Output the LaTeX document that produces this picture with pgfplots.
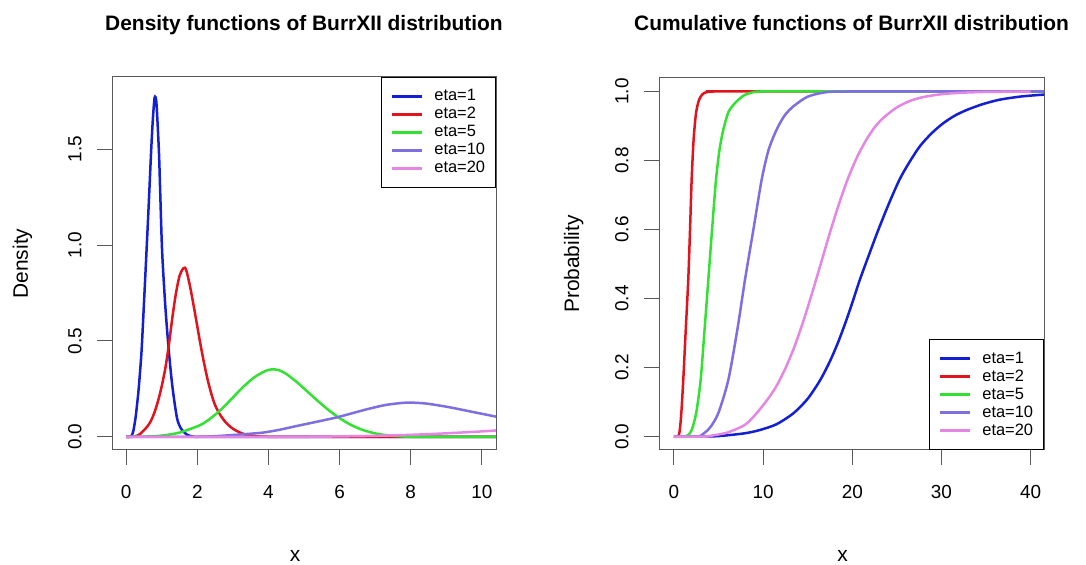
\documentclass[border=0pt]{standalone}
\usepackage{fontspec}
\setmainfont{Liberation Sans}
\usepackage{pgfplots}
\pgfplotsset{compat=1.18}
\definecolor{cBlue}{RGB}{20,30,210}
\definecolor{cRed}{RGB}{225,20,30}
\definecolor{cGreen}{RGB}{50,225,50}
\definecolor{cPurple}{RGB}{125,110,225}
\definecolor{cPink}{RGB}{228,135,228}
\pgfplotsset{
  rstyle/.style={
    scale only axis,
    axis line style={black!65, line width=1bp},
    tick style={black!65, line width=1bp},
    tick align=outside,
    major tick length=15bp,
    xtick pos=left, ytick pos=left,
    /pgf/number format/assume math mode=true,
    tick label style={font=\fontsize{19}{21}\selectfont},
    yticklabel style={rotate=90, anchor=south},
    yticklabel shift=12bp,
    xticklabel shift=17bp,
    title style={font=\fontsize{21}{24}\selectfont\bfseries, anchor=base, at={(0.5,1)}},
    every axis x label/.style={at={(axis description cs:0.5,0)}, anchor=base, yshift=-112bp, xshift=-9bp, font=\fontsize{21}{24}\selectfont},
    legend cell align=left,
    legend image code/.code={\draw[##1] (0bp,0bp) -- (30bp,0bp);},
    every axis plot/.append style={line width=2.5bp, smooth, tension=0.45},
    legend style={draw=black, line width=0.8bp, font=\fontsize{16.5}{18}\selectfont,
      inner xsep=9bp, inner ysep=10bp, row sep=0bp,
      nodes={inner sep=1.5bp, text height=12bp, text depth=3bp},
      /tikz/every odd column/.append style={column sep=10bp}},
  }
}
\begin{document}
\begin{tikzpicture}[x=1bp,y=1bp]
\path[use as bounding box] (0,0) rectangle (1086,565);
\begin{axis}[rstyle,
  at={(112bp,115bp)}, anchor=south west,
  width=384bp, height=373bp,
  xmin=-0.4, xmax=10.4, ymin=-0.069, ymax=1.877,
  xtick={0,2,4,6,8,10},
  ytick={0,0.5,1,1.5},
  yticklabel style={/pgf/number format/.cd, fixed, fixed zerofill, precision=1},
  title={Density functions of BurrXII distribution},
  title style={yshift=41bp},
  xlabel={x},
  ylabel={Density},
  every axis y label/.style={at={(axis description cs:0,0.5)}, xshift=-84bp, rotate=90, anchor=base, font=\fontsize{21}{24}\selectfont},
  legend style={at={(1,1)}, anchor=north east},
]
\addplot[cBlue] coordinates {(0,0) (0.1,0) (0.15,0.005) (0.2,0.03) (0.26,0.096) (0.3,0.16) (0.35,0.25) (0.43,0.444) (0.5,0.70) (0.57,0.966) (0.63,1.2) (0.7,1.487) (0.75,1.66) (0.8,1.77) (0.85,1.74) (0.92,1.487) (0.96,1.25) (1.01,0.966) (1.1,0.68) (1.2,0.444) (1.3,0.26) (1.43,0.096) (1.55,0.04) (1.7,0.012) (1.85,0.002) (2.0,0) (4,0) (10.4,0)};
\addlegendentry{eta=1}
\addplot[cRed] coordinates {(0,0) (0.2,0) (0.3,0.005) (0.4,0.016) (0.5,0.035) (0.6,0.055) (0.7,0.085) (0.8,0.13) (0.9,0.19) (1.0,0.265) (1.1,0.357) (1.2,0.48) (1.3,0.625) (1.4,0.75) (1.5,0.84) (1.6,0.878) (1.65,0.882) (1.7,0.862) (1.8,0.78) (1.9,0.68) (2.0,0.575) (2.1,0.47) (2.2,0.375) (2.3,0.29) (2.4,0.22) (2.5,0.165) (2.64,0.115) (2.8,0.075) (3.0,0.042) (3.25,0.018) (3.5,0.006) (4,0) (6,0) (10.4,0)};
\addlegendentry{eta=2}
\addplot[cGreen] coordinates {(0,0) (0.5,0.001) (1.0,0.006) (1.5,0.022) (2.08,0.061) (2.4,0.1) (2.7,0.148) (3.0,0.205) (3.3,0.262) (3.6,0.31) (3.9,0.342) (4.1,0.352) (4.3,0.347) (4.5,0.328) (4.8,0.285) (5.1,0.235) (5.4,0.185) (5.7,0.138) (6.0,0.097) (6.3,0.064) (6.6,0.039) (6.9,0.022) (7.2,0.011) (7.6,0.004) (8,0) (9,0) (10.4,0)};
\addlegendentry{eta=5}
\addplot[cPurple] coordinates {(0,0) (1,0) (2,0) (2.5,0.003) (3.0,0.009) (3.5,0.016) (3.86,0.022) (4.3,0.036) (4.79,0.056) (5.3,0.076) (5.92,0.101) (6.3,0.12) (6.76,0.143) (7.3,0.166) (7.88,0.178) (8.4,0.174) (9.0,0.157) (9.6,0.135) (10.4,0.105)};
\addlegendentry{eta=10}
\addplot[cPink] coordinates {(0,0) (2,0) (5,0) (6,0.002) (7,0.005) (8,0.01) (9,0.018) (10,0.028) (10.4,0.033)};
\addlegendentry{eta=20}
\end{axis}
\begin{axis}[rstyle,
  at={(659bp,115bp)}, anchor=south west,
  width=385bp, height=372bp,
  xmin=-1.68, xmax=41.5, ymin=-0.0386, ymax=1.039,
  xtick={0,10,20,30,40},
  ytick={0,0.2,0.4,0.6,0.8,1},
  yticklabel style={/pgf/number format/.cd, fixed, fixed zerofill, precision=1},
  title={Cumulative functions of BurrXII distribution},
  title style={yshift=42bp},
  xlabel={x},
  ylabel={Probability},
  every axis y label/.style={at={(axis description cs:0,0.5)}, xshift=-80bp, rotate=90, anchor=base, font=\fontsize{21}{24}\selectfont},
  legend style={at={(1,0)}, anchor=south east},
]
\addplot[cBlue] coordinates {(0,0) (2,0) (4.5,0.001) (6,0.004) (8,0.01) (9.6,0.019) (11.5,0.036) (13.4,0.068) (15,0.11) (16.4,0.164) (17.5,0.219) (18.4,0.273) (19.2,0.328) (20,0.388) (20.85,0.455) (21.9,0.529) (22.9,0.598) (24.1,0.675) (25.3,0.745) (26.4,0.795) (27.6,0.842) (28.9,0.879) (30.2,0.908) (31.5,0.93) (32.8,0.946) (34.6,0.963) (36.5,0.976) (38.8,0.985) (41.0,0.99) (41.6,0.991)};
\addlegendentry{eta=1}
\addplot[cRed] coordinates {(0,0) (0.4,0) (0.6,0.01) (0.8,0.06) (1.04,0.164) (1.3,0.3) (1.6,0.454) (1.8,0.6) (1.98,0.744) (2.2,0.86) (2.47,0.937) (2.8,0.975) (3.2,0.992) (3.66,0.998) (4.5,1) (6,1) (41.6,1)};
\addlegendentry{eta=2}
\addplot[cGreen] coordinates {(0,0) (1.2,0) (1.6,0.005) (2.0,0.02) (2.5,0.07) (2.99,0.164) (3.4,0.3) (3.85,0.454) (4.3,0.61) (4.71,0.744) (5.1,0.83) (5.53,0.889) (6.1,0.94) (6.84,0.966) (7.8,0.988) (8.9,0.998) (10,1) (12,1) (41.6,1)};
\addlegendentry{eta=5}
\addplot[cPurple] coordinates {(0,0) (2.5,0) (3.0,0.003) (4.0,0.025) (4.97,0.068) (6.09,0.164) (7.1,0.309) (7.96,0.454) (8.9,0.599) (9.83,0.744) (10.6,0.83) (11.5,0.889) (12.4,0.93) (13.4,0.957) (15,0.985) (17.1,0.998) (20,1) (23,1) (41.6,1)};
\addlegendentry{eta=10}
\addplot[cPink] coordinates {(0,0) (2,0) (3.5,0) (4.0,0.002) (6,0.012) (8,0.035) (9.27,0.068) (10.5,0.108) (11.5,0.147) (12.5,0.198) (13.5,0.26) (14.5,0.334) (15.5,0.417) (16.5,0.504) (17.5,0.592) (18.5,0.674) (19.5,0.747) (20.5,0.808) (21.5,0.857) (22.5,0.896) (23.5,0.924) (25,0.954) (26.5,0.973) (28,0.984) (30,0.992) (32,0.996) (35,0.9986) (40,0.9998)};
\addlegendentry{eta=20}
\end{axis}
\end{tikzpicture}
\end{document}
